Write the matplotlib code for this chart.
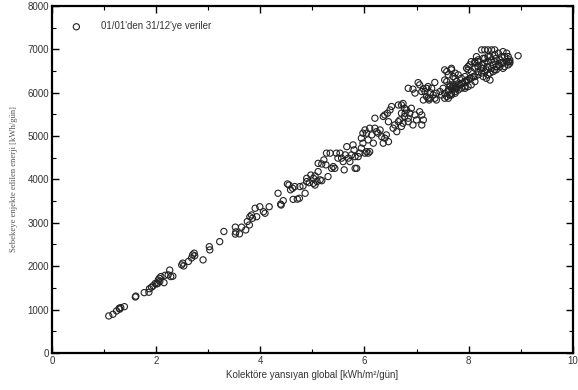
import matplotlib
matplotlib.use("Agg")
import matplotlib.pyplot as plt
from matplotlib.ticker import MultipleLocator

# Data (x: kWh/m2/day, y: kWh/day)
x_low = [1.09, 1.17, 1.24, 1.29, 1.32, 1.30, 1.39, 1.60, 1.61, 1.77, 1.86, 1.87, 1.91, 1.94,
         1.98, 2.01, 2.03, 2.04, 2.06, 2.07, 2.09, 2.15, 2.17, 2.23, 2.26, 2.28, 2.32, 2.49,
         2.51, 2.53, 2.62, 2.68, 2.70, 2.73, 2.74, 2.90, 3.02, 3.03, 3.22, 3.30]
y_low = [853, 892, 968, 1030, 1045, 1010, 1067, 1290, 1310, 1390, 1400, 1480, 1515, 1545,
         1600, 1590, 1605, 1680, 1720, 1650, 1760, 1620, 1790, 1800, 1910, 1760, 1770, 2030,
         2070, 2005, 2110, 2190, 2260, 2300, 2240, 2145, 2450, 2375, 2565, 2800]

x_mid1 = [3.52, 3.53, 3.52, 3.60, 3.64, 3.72, 3.75, 3.79, 3.80, 3.83, 3.85, 3.90, 3.93, 3.99,
          4.06, 4.09, 4.17, 4.34, 4.39, 4.44, 4.40]
y_mid1 = [2900, 2790, 2740, 2745, 2900, 2835, 3030, 2950, 3140, 3180, 3105, 3335, 3140, 3370,
          3255, 3220, 3370, 3680, 3430, 3510, 3410]

x_mid2 = [4.52, 4.55, 4.58, 4.62, 4.63, 4.66, 4.71, 4.75, 4.76, 4.82, 4.86, 4.89, 4.89, 4.94,
          4.97, 5.02, 5.02, 5.05, 5.05, 5.09, 5.11, 5.15, 5.18, 5.30, 5.11, 5.18, 5.22, 5.26,
          5.27, 5.34, 5.37, 5.40, 5.43, 5.46, 5.49]
y_mid2 = [3895, 3870, 3760, 3795, 3540, 3835, 3545, 3565, 3835, 3850, 3680, 4025, 3950, 3925,
          4100, 3910, 4025, 4080, 3870, 3950, 4180, 3990, 3970, 4065, 4370, 4355, 4450, 4335,
          4605, 4605, 4255, 4295, 4255, 4605, 4490]

x_mid3 = [5.53, 5.56, 5.59, 5.61, 5.63, 5.66, 5.69, 5.72, 5.75, 5.78, 5.80, 5.82, 5.82, 5.85,
          5.88, 5.91, 5.94, 5.97, 6.01, 6.04, 6.07, 6.10, 5.94, 5.97, 6.01, 6.04, 6.07, 6.10,
          6.14, 6.17, 6.20, 6.23, 6.26, 6.30, 6.33, 6.36, 6.39, 6.42, 6.46, 6.20, 6.36, 6.39,
          6.44, 6.46, 6.49, 6.52]
y_mid3 = [4605, 4490, 4410, 4220, 4565, 4755, 4490, 4410, 4565, 4795, 4680, 4525, 4255, 4255,
          4525, 4605, 4720, 4835, 4605, 4640, 4605, 4640, 4950, 5065, 5140, 5065, 4910, 5180,
          5025, 4835, 5180, 5100, 5065, 5140, 4985, 4835, 4950, 5025, 4870, 5410, 5450, 5485,
          5525, 5330, 5600, 5680]

x_mid4 = [6.55, 6.58, 6.62, 6.65, 6.68, 6.71, 6.74, 6.78, 6.81, 6.84, 6.71, 6.77, 6.87, 6.90,
          6.71, 6.77, 6.74, 6.84, 6.65, 6.97, 7.00, 7.06, 7.10, 7.13, 6.93, 7.10, 6.93, 7.06,
          6.97, 7.03, 7.10, 7.13, 7.16, 7.19, 7.22, 7.26, 7.29, 7.22, 7.19, 7.26, 7.32, 7.38,
          7.35, 7.35, 7.45, 7.48, 6.84, 7.13, 7.24, 7.38]
y_mid4 = [5180, 5255, 5100, 5715, 5370, 5220, 5750, 5525, 5600, 5410, 5715, 5640, 5525, 5640,
          5525, 5450, 5295, 5330, 5330, 5485, 5370, 5560, 5485, 5370, 5255, 5255, 6080, 6180,
          5990, 6230, 6025, 6090, 6025, 6100, 6140, 6000, 6100, 5870, 5910, 5870, 5945, 5985,
          5870, 6235, 6025, 5945, 6100, 5830, 5830, 5830]

x_high = [7.51, 7.54, 7.58, 7.61, 7.67, 7.70, 7.74, 7.54, 7.61, 7.64, 7.67, 7.70, 7.74, 7.77,
          7.61, 7.67, 7.74, 7.58, 7.64, 7.70, 7.77, 7.83, 7.89, 7.96, 8.02, 8.09, 7.61, 7.67,
          7.74, 7.80, 7.86, 7.93, 7.58, 7.64, 7.54, 7.54, 7.67, 8.25, 8.31, 8.37, 8.44, 8.50,
          8.66, 8.73, 8.69, 8.73, 8.15, 8.18, 8.12, 8.05, 8.02, 7.99, 7.96, 7.99, 8.05, 8.12,
          8.18, 8.25, 8.31, 8.37, 8.44, 8.50, 8.57, 8.63, 8.69, 8.76, 8.37, 8.44, 8.50, 8.31,
          8.25, 8.18, 8.12, 8.05, 7.99, 7.93, 7.86, 7.80, 7.74, 7.93, 7.86, 7.80, 7.74, 8.12,
          8.05, 7.99, 7.93, 8.18, 8.28, 8.34, 8.41, 8.53, 8.60, 8.63, 8.50, 8.57, 8.37, 8.31,
          8.25, 8.47, 8.66, 8.79, 8.95, 8.76, 8.79, 8.12, 8.18, 8.28, 8.41, 8.53, 8.66, 8.76,
          8.79, 8.28, 8.37, 8.47, 8.53, 8.60, 8.41, 8.34]
y_high = [6100, 6290, 6485, 6410, 6525, 6370, 6450, 5985, 6025, 6140, 6100, 6180, 6100, 6255,
          5870, 5945, 5985, 6255, 6180, 6140, 6100, 6180, 6215, 6290, 6330, 6370, 6060, 5985,
          6025, 6060, 6100, 6140, 5910, 5945, 5870, 6525, 6560, 6985, 6985, 6985, 6985, 6985,
          6945, 6910, 6830, 6715, 6830, 6755, 6715, 6715, 6640, 6600, 6560, 6525, 6485, 6560,
          6600, 6640, 6680, 6715, 6755, 6715, 6640, 6680, 6600, 6640, 6600, 6560, 6525, 6485,
          6450, 6410, 6370, 6330, 6290, 6255, 6215, 6180, 6140, 6370, 6330, 6410, 6330, 6255,
          6180, 6140, 6100, 6485, 6560, 6525, 6450, 6600, 6755, 6830, 6870, 6910, 6830, 6790,
          6560, 6640, 6560, 6755, 6850, 6830, 6715, 6680, 6715, 6790, 6830, 6790, 6680, 6715,
          6680, 6370, 6410, 6485, 6525, 6600, 6290, 6330]

x_vals = x_low + x_mid1 + x_mid2 + x_mid3 + x_mid4 + x_high
y_vals = y_low + y_mid1 + y_mid2 + y_mid3 + y_mid4 + y_high

legend_label = "01/01'den 31/12'ye veriler"
x_label = "Kolektöre yansıyan global [kWh/m²/gün]"
y_label = "Sebekeye enjekte edilen enerji [kWh/gün]"

fig = plt.figure(figsize=(5.78, 3.90), dpi=100)
ax = fig.add_axes([0.090, 0.095, 0.901, 0.890])

ax.scatter(x_vals, y_vals, s=20, facecolors='none', edgecolors='#222222',
           linewidths=0.8, label=legend_label, zorder=3)

ax.set_xlim(0, 10)
ax.set_ylim(0, 8000)
ax.xaxis.set_major_locator(MultipleLocator(2))
ax.xaxis.set_minor_locator(MultipleLocator(1))
ax.yaxis.set_major_locator(MultipleLocator(1000))
ax.yaxis.set_minor_locator(MultipleLocator(500))

for sp in ax.spines.values():
    sp.set_linewidth(1.6)
    sp.set_color('black')

ax.tick_params(which='major', direction='in', length=5, width=1.0, top=True, right=True,
               labelsize=7, labelcolor='#333333', pad=2)
ax.tick_params(which='minor', direction='in', length=3, width=0.8, top=True, right=True)

tick_font = 'Liberation Sans'
for lab in ax.get_xticklabels() + ax.get_yticklabels():
    lab.set_family(tick_font)

ax.set_xlabel(x_label, fontsize=7, family='Liberation Sans', color='#333333', labelpad=3)
ax.set_ylabel(y_label, fontsize=6.2, family='Liberation Serif', color='#555555', labelpad=7)

leg = ax.legend(loc='upper left', frameon=False, handletextpad=1.5,
                prop={'family': 'Liberation Sans', 'size': 7},
                bbox_to_anchor=(0.015, 0.975), borderaxespad=0.3)
for t in leg.get_texts():
    t.set_color('#333333')

fig.savefig('out.png', dpi=100)
